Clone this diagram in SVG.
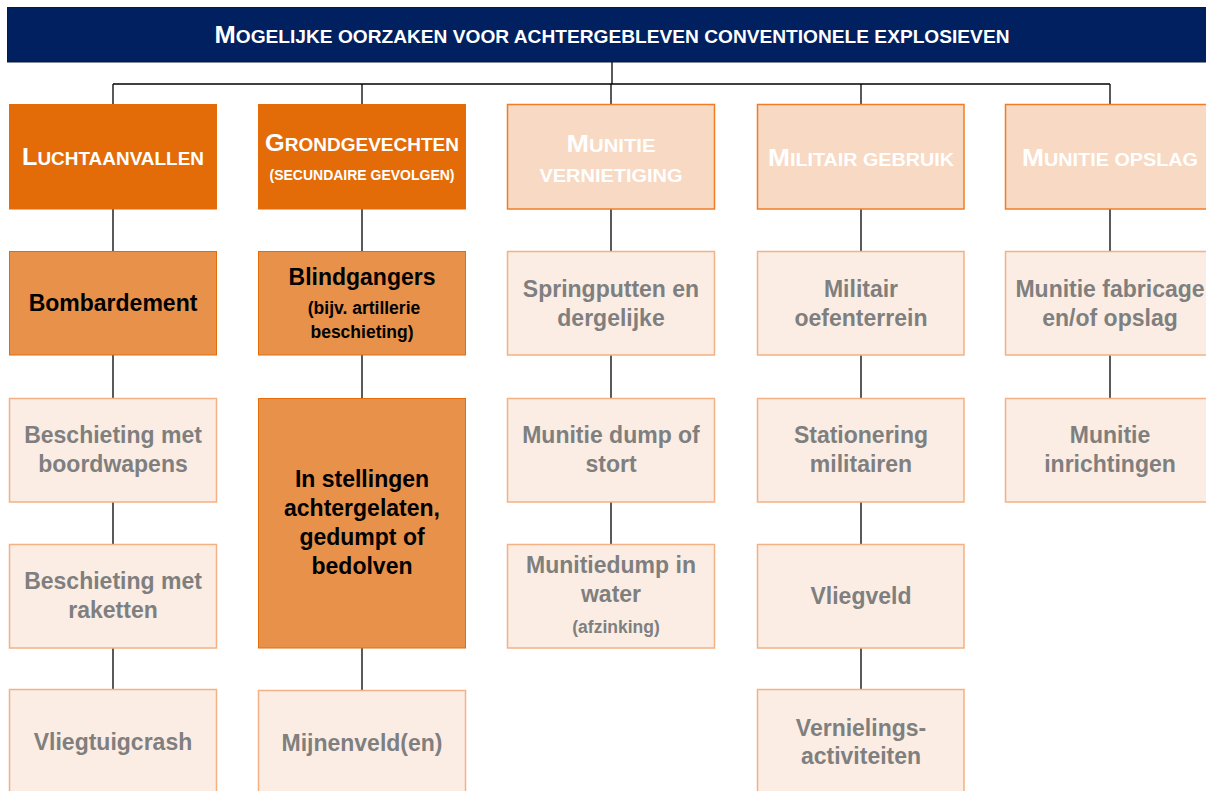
<svg xmlns="http://www.w3.org/2000/svg" width="1206" height="791" viewBox="0 0 1206 791">
<style>
text{font-family:"Liberation Sans",Arial,sans-serif;font-weight:bold;text-anchor:middle}
.title{fill:#002060;stroke:#0a1a3a;stroke-width:1}
.h1{fill:#E36C09;stroke:#E36C09;stroke-width:1}
.h2{fill:#F8D9C3;stroke:#F07D26;stroke-width:1.5}
.d{fill:#E8914A;stroke:#E36C09;stroke-width:1}
.l{fill:#FBEDE3;stroke:#F4B183;stroke-width:1.5}
.wt{fill:#FFFFFF}
.bt{fill:#000000;font-size:23px}
.gt{fill:#7F7F7F;font-size:23px}
.sm{font-size:17.5px}
.conn line{stroke:#000;stroke-width:1.3}
</style>
<rect width="1206" height="791" fill="#FFFFFF"/>
<g class="conn" id="connectors">
<line x1="612" y1="62" x2="612" y2="84"/>
<line x1="113" y1="84" x2="1110" y2="84"/>
<line x1="113" y1="84" x2="113" y2="104"/>
<line x1="362" y1="84" x2="362" y2="104"/>
<line x1="611" y1="84" x2="611" y2="104"/>
<line x1="861" y1="84" x2="861" y2="104"/>
<line x1="1110" y1="84" x2="1110" y2="104"/>
<line x1="113" y1="209" x2="113" y2="689"/>
<line x1="362" y1="209" x2="362" y2="251"/>
<line x1="362" y1="355" x2="362" y2="398"/>
<line x1="362" y1="648" x2="362" y2="690"/>
<line x1="611" y1="209" x2="611" y2="251"/>
<line x1="611" y1="355" x2="611" y2="398"/>
<line x1="611" y1="502" x2="611" y2="544"/>
<line x1="861" y1="209" x2="861" y2="689"/>
<line x1="1110" y1="209" x2="1110" y2="251"/>
<line x1="1110" y1="355" x2="1110" y2="398"/>
</g>
<g id="title">
<rect class="title" x="7.5" y="7.5" width="1205" height="54.5"/>
<text class="wt" x="612" y="43" textLength="795" lengthAdjust="spacingAndGlyphs"><tspan font-size="24">M</tspan><tspan font-size="18">OGELIJKE OORZAKEN VOOR ACHTERGEBLEVEN CONVENTIONELE EXPLOSIEVEN</tspan></text>
</g>
<g id="luchtaanvallen">
<rect class="h1" x="9.5" y="104.5" width="207" height="104.5"/>
<text class="wt" x="113" y="165" textLength="182" lengthAdjust="spacingAndGlyphs"><tspan font-size="24">L</tspan><tspan font-size="18">UCHTAANVALLEN</tspan></text>
</g>
<g id="grondgevechten">
<rect class="h1" x="258.5" y="104.5" width="207" height="104.5"/>
<text class="wt" x="362" y="151" textLength="194" lengthAdjust="spacingAndGlyphs"><tspan font-size="24">G</tspan><tspan font-size="18">RONDGEVECHTEN</tspan></text>
<text class="wt" x="362" y="180" font-size="15" textLength="185" lengthAdjust="spacingAndGlyphs">(SECUNDAIRE GEVOLGEN)</text>
</g>
<g id="munitie-vernietiging">
<rect class="h2" x="507.5" y="104.5" width="207" height="104.5"/>
<text class="wt" x="611" y="152" textLength="89" lengthAdjust="spacingAndGlyphs"><tspan font-size="24">M</tspan><tspan font-size="18">UNITIE</tspan></text>
<text class="wt" x="611" y="182" font-size="18" textLength="143" lengthAdjust="spacingAndGlyphs">VERNIETIGING</text>
</g>
<g id="militair-gebruik">
<rect class="h2" x="757.5" y="104.5" width="206.5" height="104.5"/>
<text class="wt" x="861" y="166" textLength="186" lengthAdjust="spacingAndGlyphs"><tspan font-size="24">M</tspan><tspan font-size="18">ILITAIR GEBRUIK</tspan></text>
</g>
<g id="munitie-opslag">
<rect class="h2" x="1005.5" y="104.5" width="210" height="104.5"/>
<text class="wt" x="1110" y="166" textLength="176" lengthAdjust="spacingAndGlyphs"><tspan font-size="24">M</tspan><tspan font-size="18">UNITIE OPSLAG</tspan></text>
</g>
<g id="bombardement">
<rect class="d" x="9.5" y="251.5" width="207" height="103.5"/>
<text class="bt" x="113" y="311">Bombardement</text>
</g>
<g id="blindgangers">
<rect class="d" x="258.5" y="251.5" width="207" height="103.5"/>
<text class="bt" x="362" y="285">Blindgangers</text>
<text class="bt sm" x="364" y="314">(bijv. artillerie</text>
<text class="bt sm" x="362" y="338">beschieting)</text>
</g>
<g id="springputten">
<rect class="l" x="507.5" y="251.5" width="207" height="103.5"/>
<text class="gt" x="611" y="297">Springputten en</text>
<text class="gt" x="611" y="326">dergelijke</text>
</g>
<g id="oefenterrein">
<rect class="l" x="757.5" y="251.5" width="206.5" height="103.5"/>
<text class="gt" x="861" y="297">Militair</text>
<text class="gt" x="861" y="326">oefenterrein</text>
</g>
<g id="fabricage">
<rect class="l" x="1005.5" y="251.5" width="210" height="103.5"/>
<text class="gt" x="1110" y="297">Munitie fabricage</text>
<text class="gt" x="1110" y="326">en/of opslag</text>
</g>
<g id="boordwapens">
<rect class="l" x="9.5" y="398.5" width="207" height="103.5"/>
<text class="gt" x="113" y="443">Beschieting met</text>
<text class="gt" x="113" y="472">boordwapens</text>
</g>
<g id="stellingen">
<rect class="d" x="258.5" y="398.5" width="207" height="249.5"/>
<text class="bt" x="362" y="487">In stellingen</text>
<text class="bt" x="362" y="516">achtergelaten,</text>
<text class="bt" x="362" y="545">gedumpt of</text>
<text class="bt" x="362" y="574">bedolven</text>
</g>
<g id="dump-stort">
<rect class="l" x="507.5" y="398.5" width="207" height="103.5"/>
<text class="gt" x="611" y="443">Munitie dump of</text>
<text class="gt" x="611" y="472">stort</text>
</g>
<g id="stationering">
<rect class="l" x="757.5" y="398.5" width="206.5" height="103.5"/>
<text class="gt" x="861" y="443">Stationering</text>
<text class="gt" x="861" y="472">militairen</text>
</g>
<g id="inrichtingen">
<rect class="l" x="1005.5" y="398.5" width="210" height="103.5"/>
<text class="gt" x="1110" y="443">Munitie</text>
<text class="gt" x="1110" y="472">inrichtingen</text>
</g>
<g id="raketten">
<rect class="l" x="9.5" y="544.5" width="207" height="103.5"/>
<text class="gt" x="113" y="589">Beschieting met</text>
<text class="gt" x="113" y="618">raketten</text>
</g>
<g id="dump-water">
<rect class="l" x="507.5" y="544.5" width="207" height="103.5"/>
<text class="gt" x="611" y="573">Munitiedump in</text>
<text class="gt" x="611" y="602">water</text>
<text class="gt sm" x="616" y="633">(afzinking)</text>
</g>
<g id="vliegveld">
<rect class="l" x="757.5" y="544.5" width="206.5" height="103.5"/>
<text class="gt" x="861" y="604">Vliegveld</text>
</g>
<g id="vliegtuigcrash">
<rect class="l" x="9.5" y="689.5" width="207" height="110"/>
<text class="gt" x="113" y="750">Vliegtuigcrash</text>
</g>
<g id="mijnenveld">
<rect class="l" x="258.5" y="690.5" width="207" height="110"/>
<text class="gt" x="362" y="751">Mijnenveld(en)</text>
</g>
<g id="vernielingsactiviteiten">
<rect class="l" x="757.5" y="689.5" width="206.5" height="110"/>
<text class="gt" x="861" y="736">Vernielings-</text>
<text class="gt" x="861" y="764">activiteiten</text>
</g>
</svg>
